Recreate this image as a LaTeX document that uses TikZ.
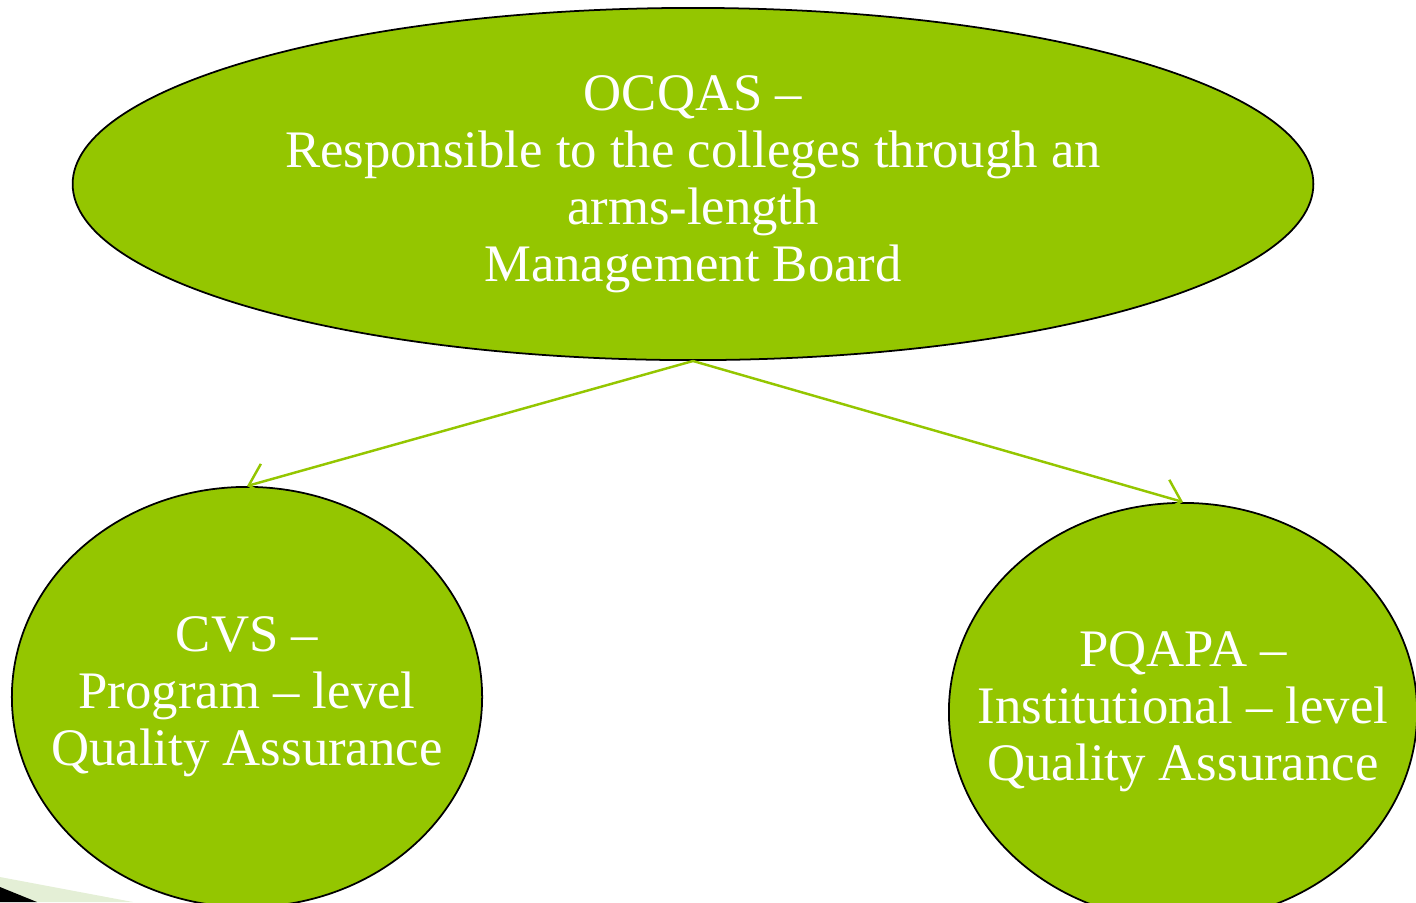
\documentclass[tikz,border=0pt]{standalone}
\usepackage{fontspec}
\setmainfont{Liberation Serif}
\usetikzlibrary{shapes.geometric,arrows.meta}
\definecolor{leaf}{RGB}{148,198,0}
\definecolor{pale}{RGB}{228,239,214}
\begin{document}
\begin{tikzpicture}[x=0.01cm,y=-0.01cm,
  blob/.style={ellipse,draw=black,line width=0.5pt,fill=leaf,text=white,inner sep=-1cm,align=center,
    font=\fontsize{15}{16.2}\selectfont},
  link/.style={draw=leaf,line width=0.7pt,-{Straight Barb[length=5pt,width=10pt]}}]
\useasboundingbox (0,0) rectangle (1416,902);
% corner decoration
\fill[pale] (0,877) -- (133,902) -- (0,902) -- cycle;
\fill[black] (0,887) -- (37,902) -- (0,902) -- cycle;
% boxes
\node[blob,minimum width=12.40cm,minimum height=3.52cm] (ocqas) at (693,184)
  {OCQAS --\\Responsible to the colleges through an\\arms-length\\Management Board};
\node[blob,minimum width=4.70cm,minimum height=4.20cm] (cvs) at (247,697)
  {CVS --\\Program -- level\\Quality Assurance};
\node[blob,minimum width=4.68cm,minimum height=4.18cm] (pqapa) at (1183,712)
  {PQAPA --\\Institutional -- level\\Quality Assurance};
% links
\draw[link] (ocqas.south) -- (cvs.north);
\draw[link] (ocqas.south) -- (pqapa.north);
\end{tikzpicture}
\end{document}
